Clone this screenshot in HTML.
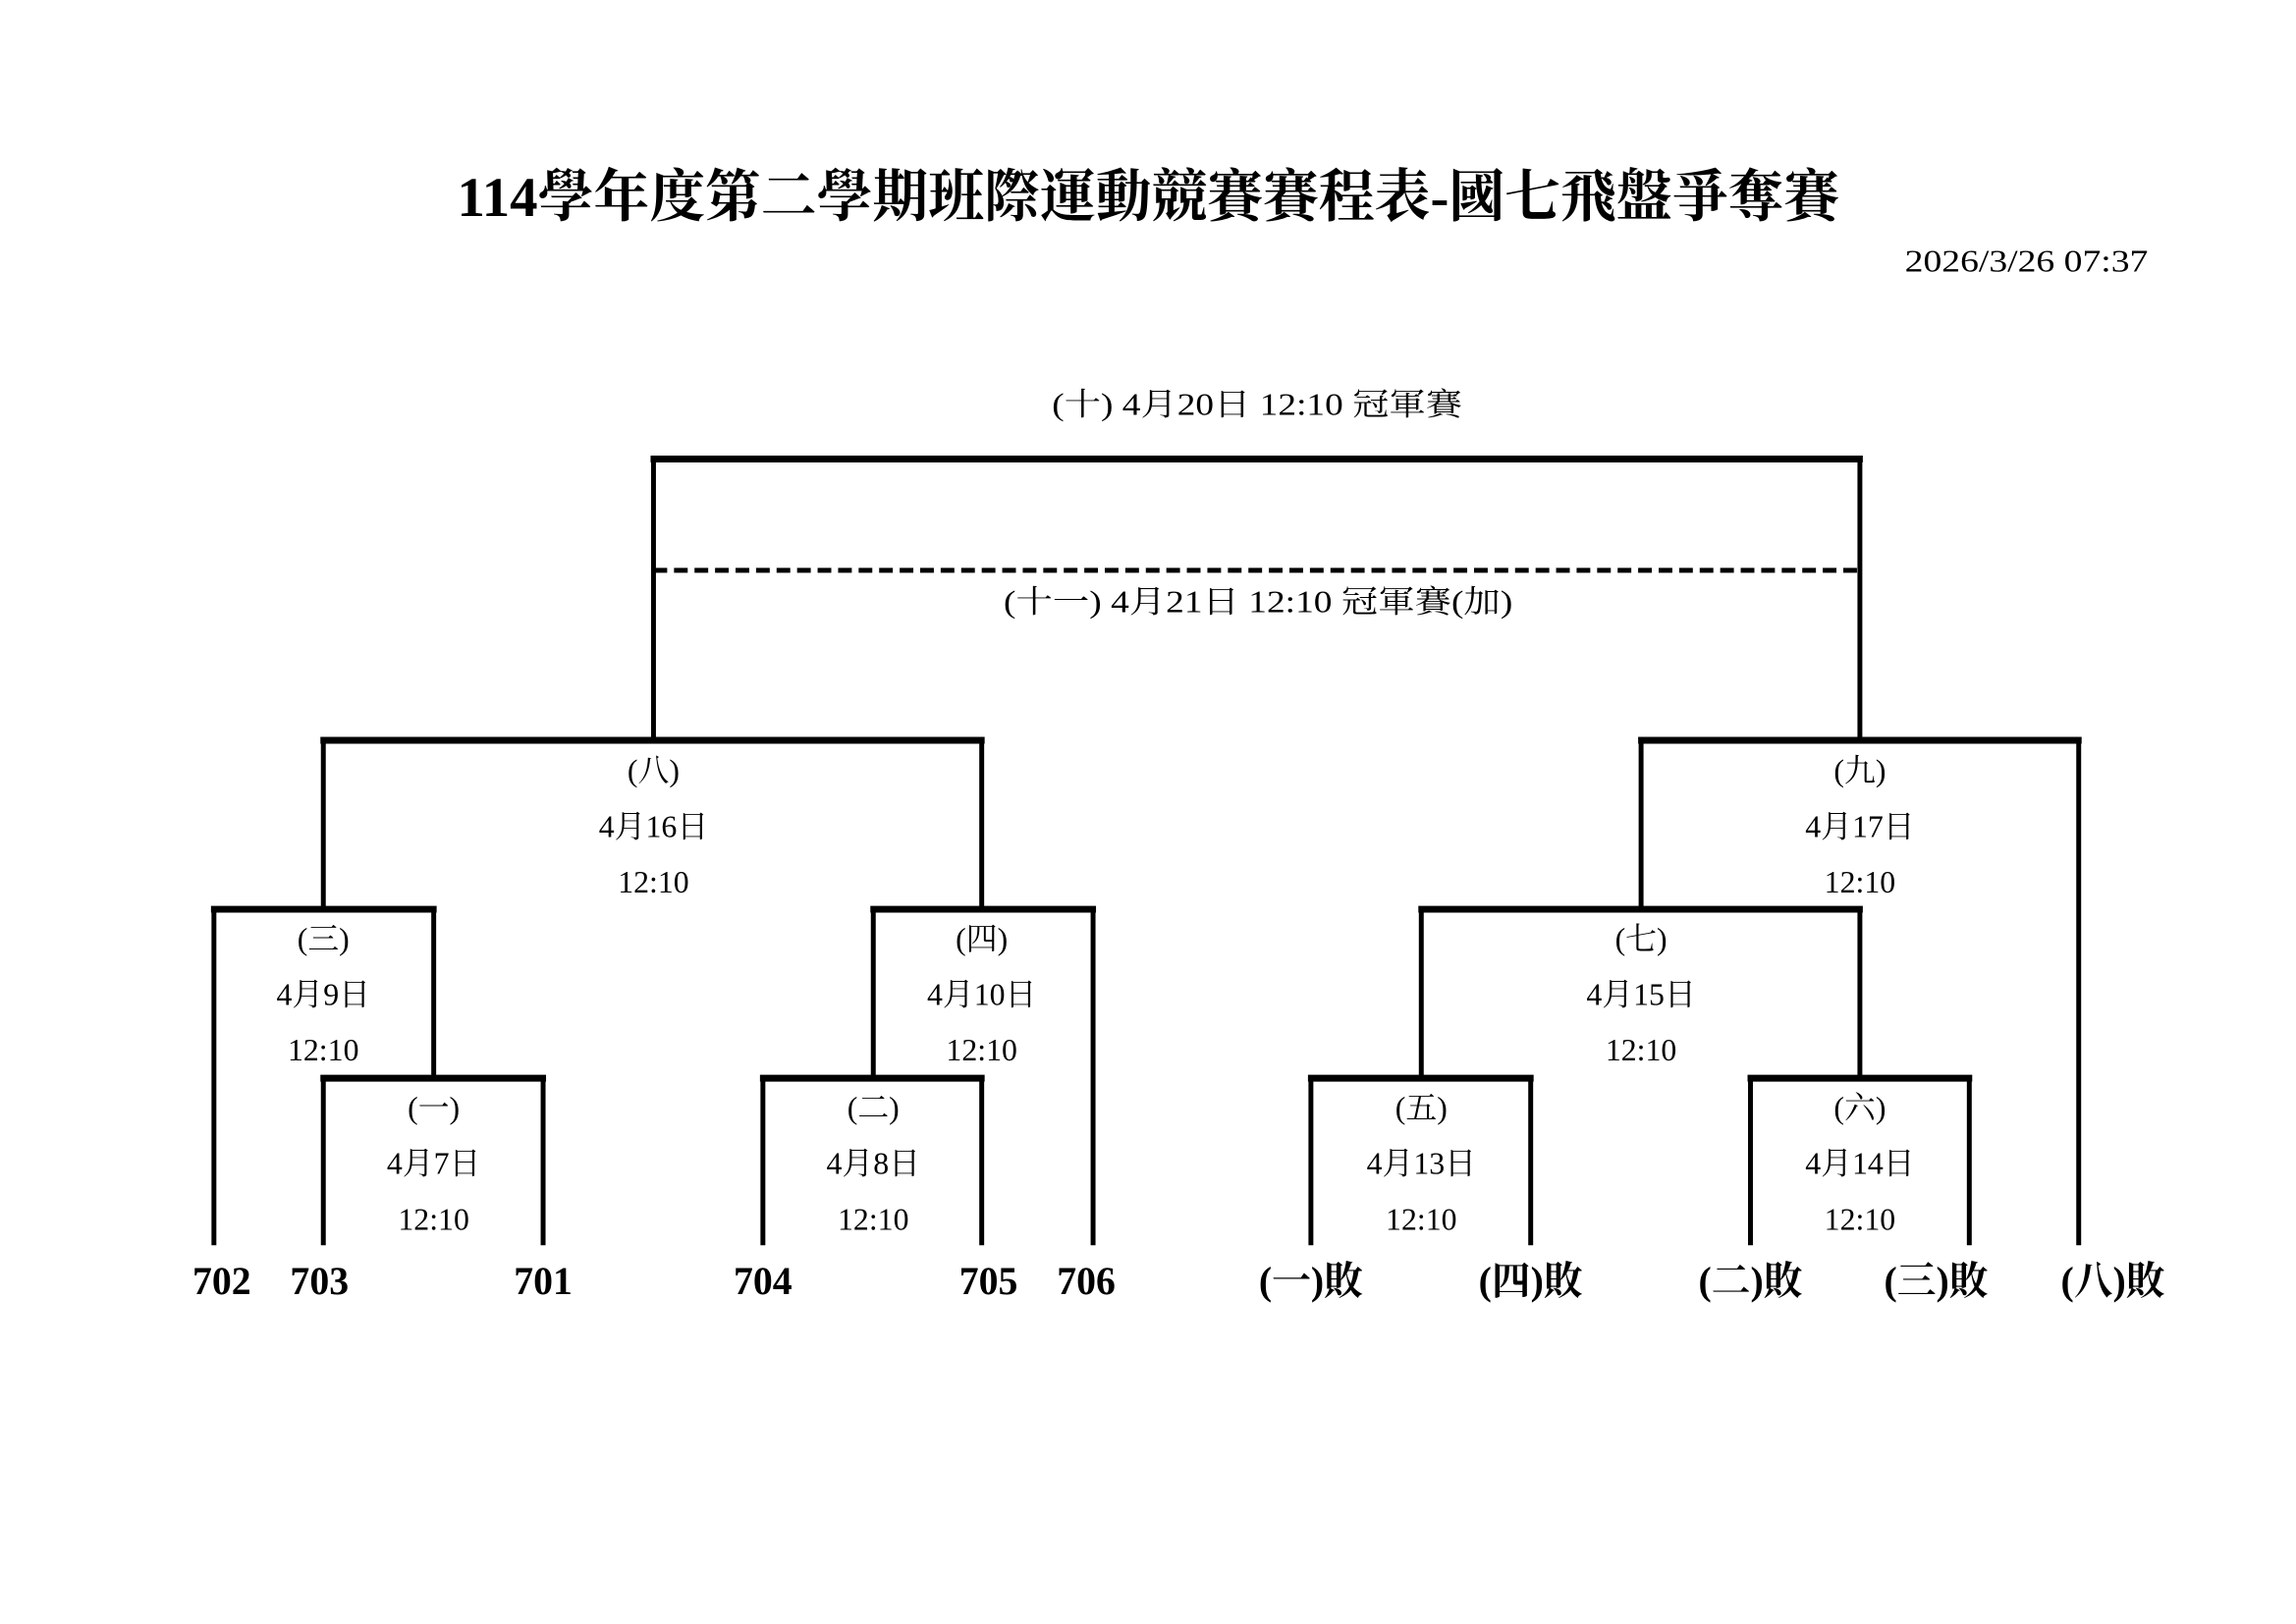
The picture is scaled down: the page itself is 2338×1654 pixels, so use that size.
<!DOCTYPE html>
<html><head><meta charset="utf-8"><style>
html,body{margin:0;padding:0;background:#fff;width:2338px;height:1654px;overflow:hidden}
svg{display:block}
text{font-family:"Liberation Serif","Noto Serif CJK SC","Noto Sans CJK TC",serif;fill:#000}
.s{font-size:32px}
.b{font-size:40px;font-weight:bold}
</style></head><body>
<svg width="2338" height="1654" viewBox="0 0 2338 1654" xmlns="http://www.w3.org/2000/svg">
<g transform="scale(0.9947)">
<text x="468" y="221" font-size="58" font-weight="bold" textLength="1415" lengthAdjust="spacingAndGlyphs">114學年度第二學期班際運動競賽賽程表-國七飛盤爭奪賽</text>
<text x="1950" y="278" class="s" textLength="249" lengthAdjust="spacingAndGlyphs">2026/3/26 07:37</text>

<g stroke="#000" fill="none">
<g stroke-width="7">
<line x1="666" y1="470" x2="1907" y2="470"/>
<line x1="328" y1="758" x2="1008" y2="758"/>
<line x1="1677" y1="758" x2="2131" y2="758"/>
<line x1="216" y1="931" x2="447" y2="931"/>
<line x1="891" y1="931" x2="1122" y2="931"/>
<line x1="1452" y1="931" x2="1907" y2="931"/>
<line x1="328" y1="1104" x2="559" y2="1104"/>
<line x1="778" y1="1104" x2="1008" y2="1104"/>
<line x1="1339" y1="1104" x2="1570" y2="1104"/>
<line x1="1789" y1="1104" x2="2019" y2="1104"/>
</g>
<line x1="669" y1="584" x2="1904" y2="584" stroke-width="5" stroke-dasharray="14,7"/>
<g stroke-width="5">
<line x1="669" y1="470" x2="669" y2="758"/>
<line x1="1904" y1="470" x2="1904" y2="758"/>
<line x1="331" y1="758" x2="331" y2="931"/>
<line x1="1005" y1="758" x2="1005" y2="931"/>
<line x1="1680" y1="758" x2="1680" y2="931"/>
<line x1="2128" y1="758" x2="2128" y2="1275"/>
<line x1="219" y1="931" x2="219" y2="1275"/>
<line x1="444" y1="931" x2="444" y2="1104"/>
<line x1="894" y1="931" x2="894" y2="1104"/>
<line x1="1119" y1="931" x2="1119" y2="1275"/>
<line x1="1455" y1="931" x2="1455" y2="1104"/>
<line x1="1904" y1="931" x2="1904" y2="1104"/>
<line x1="331" y1="1104" x2="331" y2="1275"/>
<line x1="556" y1="1104" x2="556" y2="1275"/>
<line x1="781" y1="1104" x2="781" y2="1275"/>
<line x1="1005" y1="1104" x2="1005" y2="1275"/>
<line x1="1342" y1="1104" x2="1342" y2="1275"/>
<line x1="1567" y1="1104" x2="1567" y2="1275"/>
<line x1="1792" y1="1104" x2="1792" y2="1275"/>
<line x1="2016" y1="1104" x2="2016" y2="1275"/>
</g>
</g>

<g class="s" text-anchor="middle">
<text x="1287" y="425" textLength="420" lengthAdjust="spacingAndGlyphs">(十) 4月20日 12:10 冠軍賽</text>
<text x="1288" y="627" textLength="521" lengthAdjust="spacingAndGlyphs">(十一) 4月21日 12:10 冠軍賽(加)</text>

<text x="669" y="800">(八)</text><text x="669" y="857">4月16日</text><text x="669" y="914">12:10</text>
<text x="1904" y="800">(九)</text><text x="1904" y="857">4月17日</text><text x="1904" y="914">12:10</text>
<text x="331" y="972">(三)</text><text x="331" y="1029">4月9日</text><text x="331" y="1086">12:10</text>
<text x="1005" y="972">(四)</text><text x="1005" y="1029">4月10日</text><text x="1005" y="1086">12:10</text>
<text x="1680" y="972">(七)</text><text x="1680" y="1029">4月15日</text><text x="1680" y="1086">12:10</text>
<text x="444" y="1145">(一)</text><text x="444" y="1202">4月7日</text><text x="444" y="1259">12:10</text>
<text x="894" y="1145">(二)</text><text x="894" y="1202">4月8日</text><text x="894" y="1259">12:10</text>
<text x="1455" y="1145">(五)</text><text x="1455" y="1202">4月13日</text><text x="1455" y="1259">12:10</text>
<text x="1904" y="1145">(六)</text><text x="1904" y="1202">4月14日</text><text x="1904" y="1259">12:10</text>
</g>

<g class="b" text-anchor="middle">
<text x="227" y="1325">702</text>
<text x="327" y="1325">703</text>
<text x="556" y="1325">701</text>
<text x="781" y="1325">704</text>
<text x="1012" y="1325">705</text>
<text x="1112" y="1325">706</text>
<text x="1342" y="1325">(一)敗</text>
<text x="1567" y="1325">(四)敗</text>
<text x="1792" y="1325">(二)敗</text>
<text x="1982" y="1325">(三)敗</text>
<text x="2163" y="1325">(八)敗</text>
</g>
</g>
</svg>
</body></html>
